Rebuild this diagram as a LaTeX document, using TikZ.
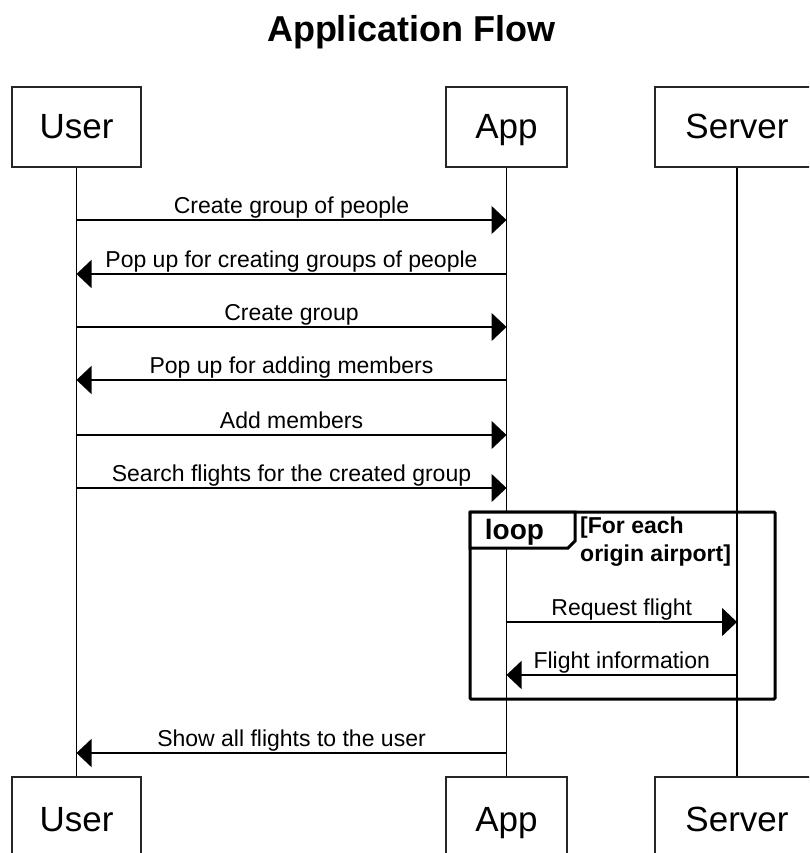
\documentclass[tikz,border=0pt]{standalone}
\usepackage{fontspec}
\setmainfont{Liberation Sans}
\usetikzlibrary{arrows.meta}
\begin{document}
\begin{tikzpicture}[x=1pt,y=-1pt,
  actor/.style={draw=black!85, line width=1.5pt, fill=white, minimum width=129pt, minimum height=80pt, inner sep=0pt, text height=25pt, text depth=1pt, font=\fontsize{35}{40}\selectfont},
  lifeline/.style={line width=1.5pt, black},
  msg/.style={line width=1.5pt, black, -{Triangle[length=15pt,width=28pt]}},
  lbl/.style={font=\fontsize{23}{27}\selectfont, anchor=base, yshift=7pt, inner sep=0pt},
  frame/.style={line width=3pt, black, rounded corners=1pt},
  condtxt/.style={font=\bfseries\fontsize{23}{28}\selectfont, anchor=base west, inner sep=0pt, align=left}
]
\useasboundingbox (0,0) rectangle (809,853);
\clip (0,0) rectangle (809,853);

% title
\node[font=\bfseries\fontsize{36}{40}\selectfont, anchor=base, inner sep=0pt] (title) at (411,42) {Application Flow};

% actors
\node[actor] (uT) at (76.5,127) {User};
\node[actor, minimum width=121pt] (aT) at (506.5,127) {App};
\node[actor, minimum width=164pt] (sT) at (737,127) {Server};
\node[actor, minimum height=84pt] (uB) at (76.5,819) {User};
\node[actor, minimum height=84pt, minimum width=121pt] (aB) at (506.5,819) {App};
\node[actor, minimum height=84pt, minimum width=164pt] (sB) at (737,819) {Server};

% lifelines
\draw[lifeline] (uT.south) -- (uB.north);
\draw[lifeline] (aT.south) -- (aB.north);
\draw[lifeline] (sT.south) -- (sB.north);

% message rows
\coordinate (y1) at (0,220);
\coordinate (y2) at (0,274);
\coordinate (y3) at (0,327);
\coordinate (y4) at (0,380);
\coordinate (y5) at (0,435);
\coordinate (y6) at (0,488);
\coordinate (y7) at (0,622);
\coordinate (y8) at (0,675);
\coordinate (y9) at (0,753);

% loop frame
\draw[frame] (470,512) rectangle (775,699);
\draw[frame, fill=white, rounded corners=0pt] (470,512) -- (575,512) -- (575,541) -- (568,548) -- (470,548) -- cycle;
\node[font=\bfseries\fontsize{28}{32}\selectfont, anchor=base, inner sep=0pt] (looplbl) at (514.5,539) {loop};
\node[condtxt] (cond1) at (580,533) {[For each};
\node[condtxt] (cond2) at (580,561) {origin airport]};

% messages
\draw[msg] (uT |- y1) -- node[lbl] {Create group of people} (aT |- y1);
\draw[msg] (aT |- y2) -- node[lbl] {Pop up for creating groups of people} (uT |- y2);
\draw[msg] (uT |- y3) -- node[lbl] {Create group} (aT |- y3);
\draw[msg] (aT |- y4) -- node[lbl] {Pop up for adding members} (uT |- y4);
\draw[msg] (uT |- y5) -- node[lbl] {Add members} (aT |- y5);
\draw[msg] (uT |- y6) -- node[lbl] {Search flights for the created group} (aT |- y6);
\draw[msg] (aT |- y7) -- node[lbl] {Request flight} (sT |- y7);
\draw[msg] (sT |- y8) -- node[lbl] {Flight information} (aT |- y8);
\draw[msg] (aT |- y9) -- node[lbl] {Show all flights to the user} (uT |- y9);
\end{tikzpicture}
\end{document}
